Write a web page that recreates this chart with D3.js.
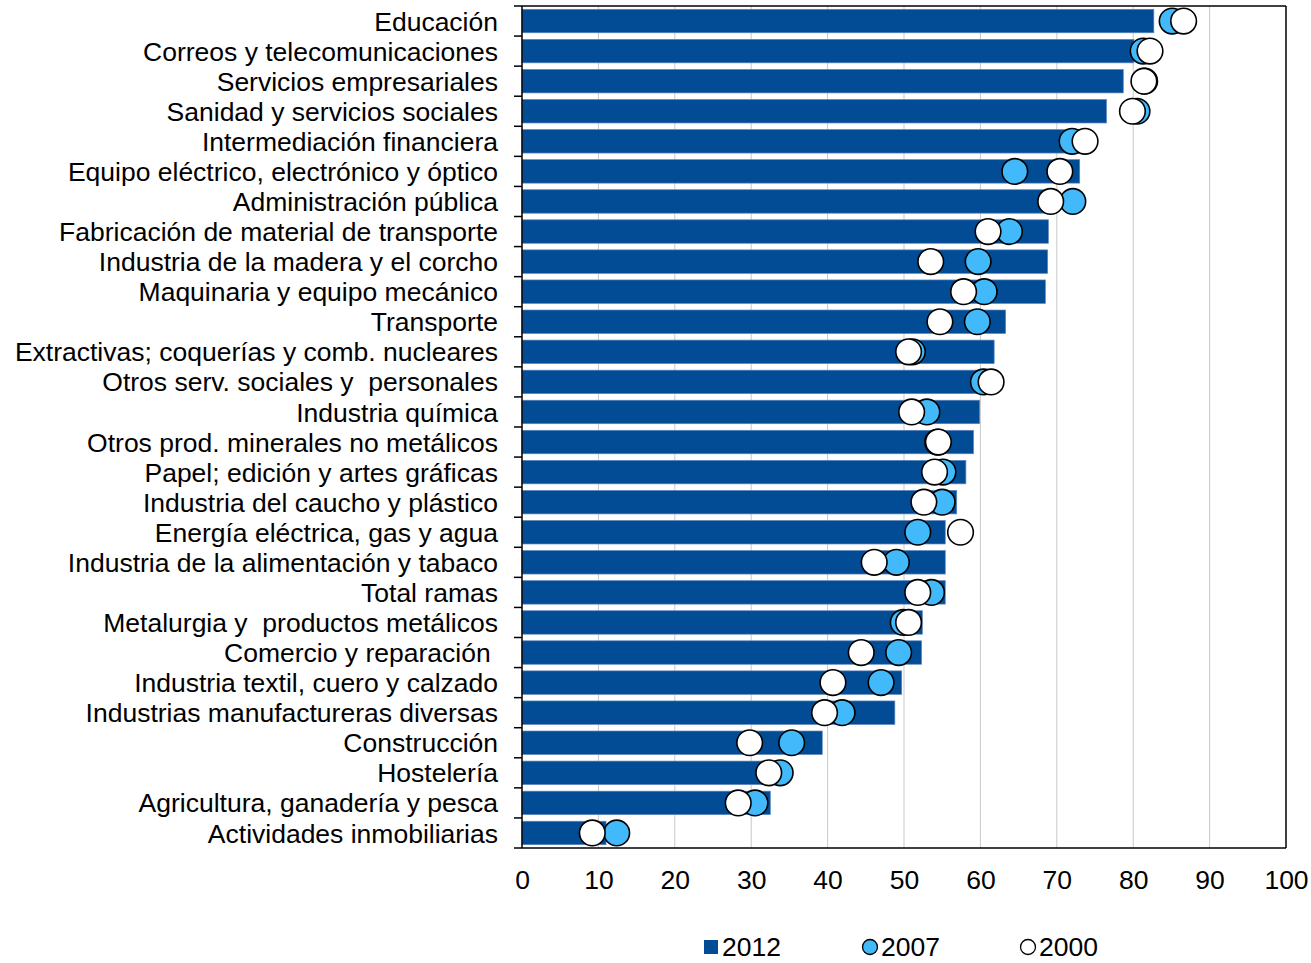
<!DOCTYPE html>
<html>
<head>
<meta charset="utf-8">
<script src="https://cdn.jsdelivr.net/npm/d3@7"></script>
<style>
  body { margin: 0; background: #fff; }
  text { font-family: "Liberation Sans", Arial, sans-serif; fill: #000; white-space: pre; }
</style>
</head>
<body>
<script>
var categories = ["Educación", "Correos y telecomunicaciones", "Servicios empresariales",
  "Sanidad y servicios sociales", "Intermediación financiera", "Equipo eléctrico, electrónico y óptico",
  "Administración pública", "Fabricación de material de transporte", "Industria de la madera y el corcho",
  "Maquinaria y equipo mecánico", "Transporte", "Extractivas; coquerías y comb. nucleares",
  "Otros serv. sociales y  personales", "Industria química", "Otros prod. minerales no metálicos",
  "Papel; edición y artes gráficas", "Industria del caucho y plástico", "Energía eléctrica, gas y agua",
  "Industria de la alimentación y tabaco", "Total ramas", "Metalurgia y  productos metálicos",
  "Comercio y reparación ", "Industria textil, cuero y calzado", "Industrias manufactureras diversas",
  "Construcción", "Hostelería", "Agricultura, ganadería y pesca", "Actividades inmobiliarias"];

var v2012 = [82.7, 80.1, 78.7, 76.5, 73.5, 73.0, 69.5, 68.9, 68.8, 68.5, 63.3, 61.8, 60.2, 59.9,
  59.1, 58.1, 56.9, 55.4, 55.4, 55.4, 52.4, 52.3, 49.7, 48.8, 39.3, 33.5, 32.5, 11.0];
var v2007 = [85.1, 81.3, 81.5, 80.5, 72.0, 64.5, 72.1, 63.8, 59.7, 60.5, 59.6, 51.1, 60.4, 53.0,
  54.4, 55.1, 55.0, 51.8, 49.0, 53.6, 49.9, 49.3, 47.0, 41.9, 35.3, 33.8, 30.5, 12.4];
var v2000 = [86.6, 82.2, 81.4, 79.9, 73.7, 70.4, 69.2, 61.0, 53.5, 57.8, 54.7, 50.6, 61.4, 51.0,
  54.5, 54.0, 52.6, 57.4, 46.1, 51.8, 50.6, 44.4, 40.7, 39.6, 29.8, 32.3, 28.3, 9.2];

var xTicks = [0, 10, 20, 30, 40, 50, 60, 70, 80, 90, 100];
var legendLabels = ["2012", "2007", "2000"];

var margin = {top: 6, left: 522},
    width = 764,
    height = 842;
var barColor = "#024C96", blueDot = "#41B9FA";
var fontSize = "26.5px";

var svg = d3.select("body").append("svg")
    .attr("width", 1311)
    .attr("height", 963);

var g = svg.append("g")
    .attr("transform", "translate(" + margin.left + "," + margin.top + ")");

var x = d3.scaleLinear().domain([0, 100]).range([0, width]);
var y = d3.scaleBand().domain(categories).range([0, height]).paddingInner(0.22).paddingOuter(0.11);
var yRow = d3.scaleBand().domain(categories).range([0, height]);

// gridlines
g.selectAll(".grid")
   .data(xTicks.slice(1, -1))
   .enter().append("line")
   .attr("x1", function(d) { return x(d); })
   .attr("x2", function(d) { return x(d); })
   .attr("y1", 0).attr("y2", height)
   .attr("stroke", "#c9c9c9").attr("stroke-width", 1);

// bars
g.selectAll(".bar")
   .data(v2012)
   .enter().append("rect")
   .attr("x", 0)
   .attr("y", function(d, i) { return y(categories[i]); })
   .attr("width", function(d) { return x(d); })
   .attr("height", y.bandwidth())
   .attr("fill", barColor)
   .attr("stroke", "#5d85bd")
   .attr("stroke-width", 0.7);

var cy = function(i) { return yRow(categories[i]) + yRow.bandwidth() / 2; };

g.selectAll(".d07")
   .data(v2007)
   .enter().append("circle")
   .attr("cx", function(d) { return x(d); })
   .attr("cy", function(d, i) { return cy(i); })
   .attr("r", 12.8)
   .attr("fill", blueDot)
   .attr("stroke", "#000").attr("stroke-width", 1.6);

g.selectAll(".d00")
   .data(v2000)
   .enter().append("circle")
   .attr("cx", function(d) { return x(d); })
   .attr("cy", function(d, i) { return cy(i); })
   .attr("r", 12.8)
   .attr("fill", "#fff")
   .attr("stroke", "#000").attr("stroke-width", 1.6);

// frame: top and right
g.append("line").attr("x1", 0).attr("x2", width).attr("y1", 0).attr("y2", 0)
   .attr("stroke", "#000").attr("stroke-width", 1.5);
g.append("line").attr("x1", width).attr("x2", width).attr("y1", 0).attr("y2", height)
   .attr("stroke", "#000").attr("stroke-width", 1.5);

// y axis
var yAxis = d3.axisLeft(yRow).tickSize(0).tickPadding(24);
var ya = g.append("g").call(yAxis);
ya.select(".domain").remove();
ya.selectAll("text").style("font-size", fontSize).attr("fill", "#000").attr("dy", "0.36em");
g.append("line").attr("x1", 0).attr("x2", 0).attr("y1", 0).attr("y2", height)
   .attr("stroke", "#000").attr("stroke-width", 1.5);
g.selectAll(".ytick")
   .data(categories)
   .enter().append("line")
   .attr("x1", -8).attr("x2", 0)
   .attr("y1", function(d) { return yRow(d); })
   .attr("y2", function(d) { return yRow(d); })
   .attr("stroke", "#000").attr("stroke-width", 1.5);

// x axis
var xAxis = d3.axisBottom(x).tickValues(xTicks).tickSize(0).tickPadding(22);
var xa = g.append("g").attr("transform", "translate(0," + height + ")").call(xAxis);
xa.select(".domain").remove();
xa.selectAll("text").style("font-size", fontSize).attr("fill", "#000");
g.append("line").attr("x1", -8).attr("x2", width).attr("y1", height).attr("y2", height)
   .attr("stroke", "#000").attr("stroke-width", 1.5);

// legend
var legX = [704, 862, 1020], legY = 947;
var leg = svg.append("g");
leg.append("rect").attr("x", legX[0]).attr("y", legY - 7).attr("width", 14).attr("height", 14)
   .attr("fill", barColor);
leg.append("circle").attr("cx", legX[1] + 8).attr("cy", legY).attr("r", 7.5)
   .attr("fill", blueDot).attr("stroke", "#000").attr("stroke-width", 1.3);
leg.append("circle").attr("cx", legX[2] + 8).attr("cy", legY).attr("r", 7.5)
   .attr("fill", "#fff").attr("stroke", "#000").attr("stroke-width", 1.3);
leg.selectAll(".lt")
   .data(legendLabels)
   .enter().append("text")
   .attr("x", function(d, i) { return legX[i] + (i === 0 ? 18 : 19); })
   .attr("y", legY)
   .attr("dy", "0.35em")
   .style("font-size", fontSize)
   .text(function(d) { return d; });
</script>
</body>
</html>
